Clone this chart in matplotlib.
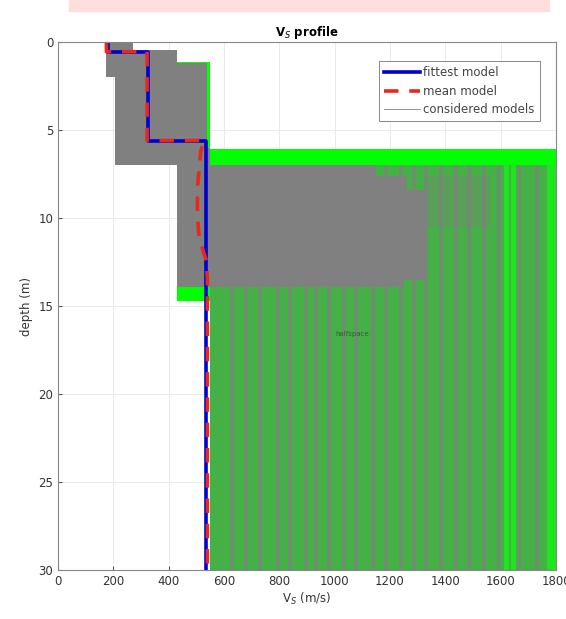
import numpy as np
import matplotlib
matplotlib.use("Agg")
import matplotlib.pyplot as plt
from matplotlib.patches import Rectangle

# envelope of the considered models in the shallow layers (depth in m, Vs in m/s)
env_top = [0.0, 0.45, 1.2, 2.0]
env_bot = [0.45, 1.2, 2.0, 7.0]
env_vmin = [173, 173, 173, 206]
env_vmax = [271, 430, 538, 538]

# third layer block of considered models
l3_top = [7.0, 7.6, 8.4, 13.5]
l3_bot = [7.6, 8.4, 13.5, 13.9]
l3_vmin = [430, 430, 430, 430]
l3_vmax = [1150, 1260, 1330, 1250]
l3_col_bot = 13.9

# bright green patches (best-misfit models) behind the grey
green_top = [1.15, 6.1, 13.9]
green_bot = [6.1, 7.0, 14.7]
green_vmin = [430, 549, 430]
green_vmax = [549, 1800, 549]

# half-space velocities of the considered models (grey stripes)
hs_grey = [630, 681, 730, 795, 839, 896, 932, 981, 1035, 1077, 1138, 1185,
           1240, 1287, 1330, 1384, 1438, 1486, 1540, 1594, 1666, 1731]
hs_bright = [1620, 1645, 1775, 1790]

# fittest model
fit_depth = [0, 0.57, 0.57, 5.6, 5.6, 30]
fit_vs = [181, 181, 326, 326, 535, 535]

# mean model
mean_depth = [0, 0.55, 0.55, 5.6, 5.6, 6.2, 8.3, 9.7, 11.2, 12.4, 13.5, 30]
mean_vs = [175, 175, 322, 322, 528, 516, 504, 504, 510, 536, 540, 540]

GREY = '#808080'
GREEN = '#00ff00'
MIDGREEN = '#45b045'

fig = plt.figure(figsize=(5.66, 6.19), dpi=100)
fig.patches.append(Rectangle((69 / 566, 1 - 11 / 619), 480 / 566, 11 / 619,
                             transform=fig.transFigure, color='#ffdede', zorder=0))
ax = fig.add_axes([58 / 566, 49 / 619, 498 / 566, 528 / 619])

# stripes region (half-space)
ax.fill_betweenx([7.0, 30], 549, 1800, color=MIDGREEN, lw=0, zorder=1)
for v in hs_grey:
    ax.plot([v, v], [7.0, 30], color=GREY, lw=2.6, alpha=0.75, zorder=2)
for v in hs_bright:
    ax.plot([v, v], [7.0, 30], color='#1ee61e', lw=3.5, zorder=2)

for t, b, v0, v1 in zip(green_top, green_bot, green_vmin, green_vmax):
    ax.fill_betweenx([t, b], v0, v1, color=GREEN, lw=0, zorder=3)

# fading grey band right of the third-layer block
ax.fill_betweenx([7.6, 10.5], 1330, 1560, color=GREY, alpha=0.35, lw=0, zorder=3)

for t, b, v0, v1 in zip(env_top, env_bot, env_vmin, env_vmax):
    ax.fill_betweenx([t, b], v0, v1, color=GREY, lw=0, zorder=4)
for t, b, v0, v1 in zip(l3_top, l3_bot, l3_vmin, l3_vmax):
    ax.fill_betweenx([t, b], v0, v1, color=GREY, lw=0, zorder=4)
ax.fill_betweenx([6.0, l3_col_bot], 430, 549, color=GREY, lw=0, zorder=4)

ax.plot([], [], color=GREY, lw=0.6, label='considered models')
ax.plot(fit_vs, fit_depth, color='#0000cc', lw=2.6, zorder=6, label='fittest model')
ax.plot(mean_vs, mean_depth, color='#e8281e', lw=2.6, ls=(0, (4, 3)),
        zorder=7, label='mean model')

ax.text(1065, 16.6, 'halfspace', fontsize=5, color='#3a5a3a', ha='center',
        va='center', zorder=8)

ax.set_xlim(0, 1800)
ax.set_ylim(30, 0)
ax.set_xticks(np.arange(0, 1801, 200))
ax.set_yticks(np.arange(0, 31, 5))
ax.tick_params(direction='in', length=3, labelsize=8.5, colors='#555555',
               labelcolor='#333333')
ax.grid(True, color='#e6e6e6', lw=0.6, zorder=0)
ax.set_axisbelow(True)
for s in ax.spines.values():
    s.set_color('#888888')
    s.set_linewidth(0.8)
    s.set_zorder(9)

ax.set_title('V$_S$ profile', fontsize=8.5, fontweight='bold', pad=4)
ax.set_xlabel('V$_S$ (m/s)', fontsize=8.5, color='#333333', labelpad=2)
ax.set_ylabel('depth (m)', fontsize=8.5, color='#333333', labelpad=4)

h, l = ax.get_legend_handles_labels()
order = [1, 2, 0]
leg = ax.legend([h[i] for i in order], [l[i] for i in order], loc='upper right',
                bbox_to_anchor=(0.98, 0.975), fontsize=8.5, fancybox=False,
                framealpha=1, edgecolor='#888888', handlelength=3.0,
                borderpad=0.45, labelspacing=0.45, handletextpad=0.3)
leg.get_frame().set_linewidth(0.7)
for t in leg.get_texts():
    t.set_color('#444444')
leg.set_zorder(10)

fig.savefig('out.png', dpi=100)
